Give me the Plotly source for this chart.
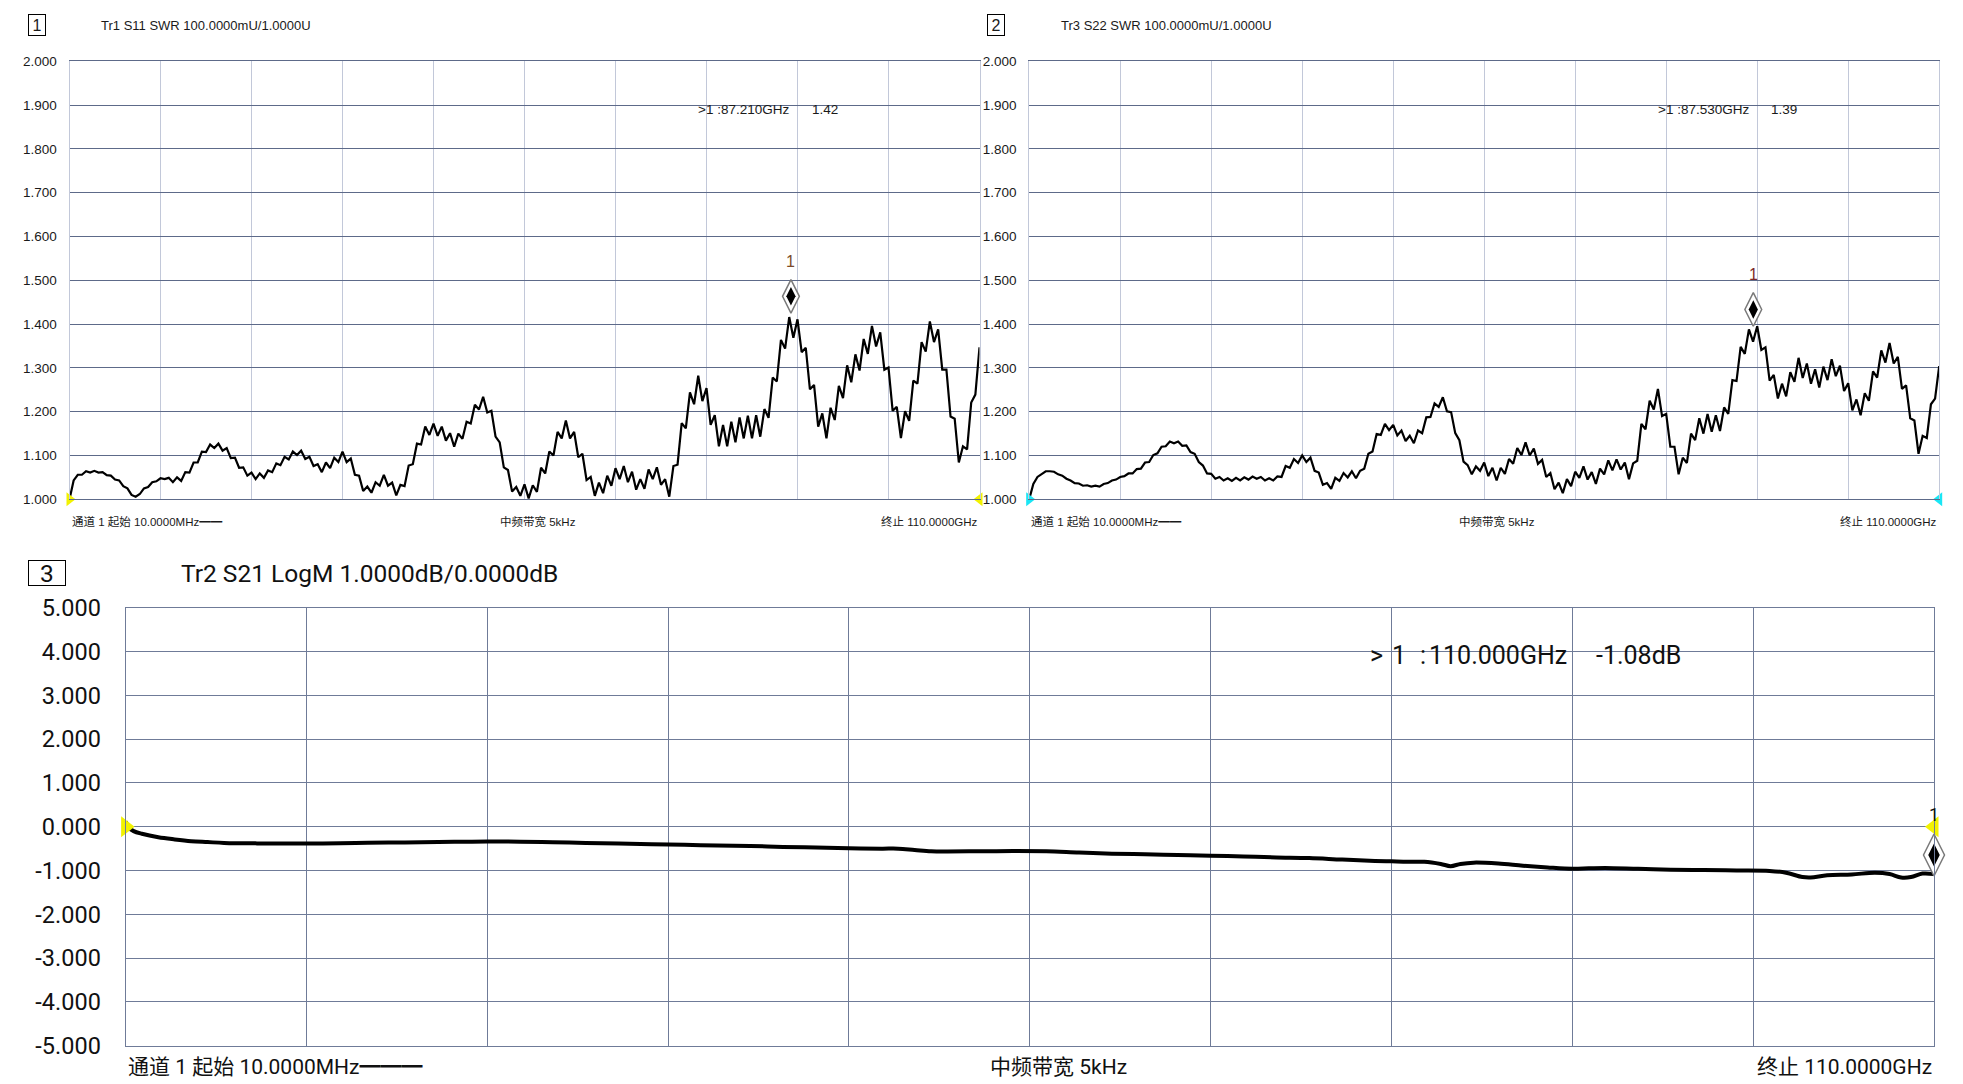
import numpy as np
import plotly.graph_objects as go

W, H = 1963, 1084
START_GHZ, STOP_GHZ = 0.01, 110.0

# ---- S11 SWR (Tr1), sweep points evenly spaced from START to STOP ----
s11_swr = [
    1.000, 1.043, 1.056, 1.056, 1.064, 1.061, 1.065, 1.061, 1.062, 1.055,
    1.054, 1.045, 1.043, 1.030, 1.025, 1.010, 1.006, 1.012, 1.025, 1.028,
    1.039, 1.041, 1.048, 1.046, 1.049, 1.039, 1.050, 1.042, 1.062, 1.061,
    1.084, 1.084, 1.109, 1.108, 1.125, 1.117, 1.127, 1.111, 1.117, 1.094,
    1.095, 1.072, 1.073, 1.054, 1.061, 1.046, 1.059, 1.049, 1.066, 1.062,
    1.082, 1.078, 1.097, 1.091, 1.109, 1.101, 1.111, 1.092, 1.097, 1.076,
    1.080, 1.062, 1.084, 1.071, 1.095, 1.085, 1.109, 1.085, 1.093, 1.056,
    1.054, 1.019, 1.029, 1.015, 1.039, 1.031, 1.056, 1.031, 1.038, 1.009,
    1.033, 1.030, 1.077, 1.080, 1.127, 1.125, 1.166, 1.147, 1.173, 1.145,
    1.166, 1.134, 1.151, 1.120, 1.150, 1.138, 1.177, 1.173, 1.216, 1.205,
    1.234, 1.198, 1.202, 1.143, 1.130, 1.073, 1.067, 1.018, 1.028, 1.008,
    1.034, 1.002, 1.032, 1.017, 1.072, 1.059, 1.109, 1.100, 1.154, 1.139,
    1.180, 1.139, 1.154, 1.096, 1.104, 1.044, 1.051, 1.008, 1.038, 1.014,
    1.054, 1.031, 1.071, 1.046, 1.076, 1.039, 1.063, 1.022, 1.046, 1.024,
    1.068, 1.046, 1.073, 1.033, 1.046, 1.006, 1.076, 1.079, 1.174, 1.162,
    1.244, 1.217, 1.282, 1.224, 1.254, 1.170, 1.192, 1.121, 1.170, 1.121,
    1.177, 1.130, 1.187, 1.139, 1.191, 1.139, 1.192, 1.143, 1.206, 1.186,
    1.278, 1.269, 1.364, 1.344, 1.416, 1.369, 1.411, 1.336, 1.346, 1.251,
    1.261, 1.166, 1.196, 1.139, 1.209, 1.181, 1.259, 1.231, 1.306, 1.267,
    1.331, 1.294, 1.366, 1.332, 1.396, 1.349, 1.381, 1.296, 1.301, 1.202,
    1.211, 1.140, 1.201, 1.179, 1.271, 1.264, 1.359, 1.337, 1.406, 1.359,
    1.388, 1.296, 1.296, 1.189, 1.184, 1.084, 1.121, 1.114, 1.221, 1.239,
    1.347,
]

# ---- S22 SWR (Tr3) ----
s22_swr = [
    1.000, 1.035, 1.051, 1.058, 1.064, 1.064, 1.063, 1.057, 1.054, 1.047,
    1.043, 1.037, 1.036, 1.031, 1.032, 1.029, 1.031, 1.029, 1.035, 1.037,
    1.043, 1.045, 1.051, 1.053, 1.059, 1.059, 1.069, 1.070, 1.084, 1.085,
    1.101, 1.105, 1.120, 1.121, 1.132, 1.128, 1.132, 1.122, 1.123, 1.108,
    1.104, 1.085, 1.077, 1.059, 1.058, 1.047, 1.051, 1.043, 1.048, 1.042,
    1.049, 1.043, 1.050, 1.045, 1.052, 1.047, 1.051, 1.043, 1.048, 1.043,
    1.052, 1.051, 1.076, 1.072, 1.092, 1.083, 1.100, 1.085, 1.095, 1.065,
    1.061, 1.033, 1.037, 1.024, 1.049, 1.042, 1.060, 1.050, 1.064, 1.048,
    1.065, 1.070, 1.104, 1.109, 1.149, 1.147, 1.172, 1.158, 1.170, 1.146,
    1.157, 1.133, 1.145, 1.128, 1.157, 1.151, 1.187, 1.188, 1.219, 1.211,
    1.233, 1.201, 1.199, 1.151, 1.135, 1.086, 1.078, 1.057, 1.075, 1.065,
    1.084, 1.053, 1.072, 1.043, 1.072, 1.058, 1.092, 1.081, 1.117, 1.101,
    1.130, 1.100, 1.116, 1.081, 1.090, 1.051, 1.060, 1.023, 1.038, 1.014,
    1.046, 1.030, 1.063, 1.049, 1.075, 1.045, 1.062, 1.035, 1.070, 1.057,
    1.089, 1.066, 1.091, 1.068, 1.084, 1.046, 1.082, 1.088, 1.172, 1.160,
    1.225, 1.205, 1.252, 1.190, 1.195, 1.120, 1.120, 1.057, 1.095, 1.083,
    1.150, 1.135, 1.185, 1.150, 1.195, 1.154, 1.192, 1.156, 1.210, 1.195,
    1.272, 1.270, 1.348, 1.332, 1.388, 1.360, 1.395, 1.341, 1.347, 1.271,
    1.284, 1.230, 1.264, 1.235, 1.290, 1.268, 1.323, 1.277, 1.310, 1.264,
    1.297, 1.255, 1.303, 1.272, 1.320, 1.281, 1.305, 1.247, 1.265, 1.203,
    1.228, 1.192, 1.242, 1.225, 1.292, 1.278, 1.340, 1.312, 1.357, 1.310,
    1.325, 1.252, 1.260, 1.185, 1.180, 1.104, 1.145, 1.140, 1.217, 1.230,
    1.304,
]

# ---- S21 LogM (Tr2) ----
s21_freq_ghz = [
    0.01, 0.2, 0.5, 1.0, 2.0, 3.0, 4.0, 5.0, 6.0, 8.0,
    10.0, 12.0, 14.0, 16.0, 18.0, 20.0, 22.0, 24.0, 26.0, 28.0,
    30.0, 32.0, 34.0, 36.0, 38.0, 40.0, 42.0, 44.0, 46.0, 47.0,
    48.0, 49.0, 50.0, 52.0, 54.0, 56.0, 58.0, 60.0, 62.0, 64.0,
    66.0, 68.0, 70.0, 72.0, 74.0, 76.0, 77.0, 78.0, 79.0, 80.0,
    80.6, 81.2, 82.0, 83.5, 85.0, 86.5, 88.0, 89.0, 90.0, 92.0,
    94.0, 96.0, 98.0, 100.0, 101.0, 102.0, 102.5, 103.5, 105.0, 106.4,
    107.3, 108.0, 108.6, 109.3, 110.0,
]
s21_db = [
    0.12, -0.02, -0.10, -0.16, -0.24, -0.29, -0.33, -0.35, -0.37, -0.38,
    -0.38, -0.38, -0.37, -0.36, -0.355, -0.345, -0.335, -0.34, -0.355, -0.37,
    -0.385, -0.40, -0.41, -0.43, -0.44, -0.46, -0.475, -0.49, -0.50, -0.50,
    -0.53, -0.56, -0.565, -0.56, -0.555, -0.56, -0.59, -0.615, -0.63, -0.645,
    -0.66, -0.68, -0.70, -0.715, -0.75, -0.78, -0.79, -0.80, -0.80, -0.85,
    -0.90, -0.85, -0.82, -0.84, -0.89, -0.93, -0.96, -0.95, -0.94, -0.96,
    -0.98, -0.99, -1.00, -1.01, -1.05, -1.15, -1.16, -1.11, -1.09, -1.05,
    -1.08, -1.16, -1.15, -1.07, -1.08,
]

swr_ticks = [1.0, 1.1, 1.2, 1.3, 1.4, 1.5, 1.6, 1.7, 1.8, 1.9, 2.0]
swr_ticktext = ["1.000", "1.100", "1.200", "1.300", "1.400", "1.500",
                "1.600", "1.700", "1.800", "1.900", "2.000"]
db_ticks = [-5, -4, -3, -2, -1, 0, 1, 2, 3, 4, 5]
db_ticktext = ["-5.000", "-4.000", "-3.000", "-2.000", "-1.000", "0.000",
               "1.000", "2.000", "3.000", "4.000", "5.000"]

m1_freq, m1_val = 87.21, 1.42
m2_freq, m2_val = 87.53, 1.39
m3_freq, m3_val = 110.0, -1.08

# reference levels of the three traces
ref_s11, ref_s22, ref_s21 = 1.0, 1.0, 0.0

SMALL = "Liberation Sans, Noto Sans CJK SC, sans-serif"
BIG = "Roboto, Noto Sans CJK SC, sans-serif"

GRID_DARK = "#5d6a89"
GRID_LIGHT = "#c2c8d9"
GRID_MID = "#6f7b98"
YELLOW = "#f2f200"
CYAN = "#19e6f5"

OFF = 8  # page body margin in the browser


def px(x):
    return (x - OFF) / W


def py(y):
    return 1 - (y - OFF) / H


freq_swr = np.linspace(START_GHZ, STOP_GHZ, len(s11_swr))
x_gridvals = list(np.linspace(START_GHZ, STOP_GHZ, 11))

fig = go.Figure()

for xa, ya, yvals in (("x", "y", s11_swr), ("x2", "y2", s22_swr)):
    fig.add_trace(go.Scatter(x=freq_swr, y=yvals, mode="lines",
                             line=dict(color="black", width=2.2),
                             xaxis=xa, yaxis=ya, hoverinfo="skip"))

fig.add_trace(go.Scatter(x=s21_freq_ghz, y=s21_db, mode="lines",
                         line=dict(color="black", width=4, shape="spline"),
                         xaxis="x3", yaxis="y3", hoverinfo="skip"))

# reference level indicators (triangles at both ends of each grid)
for xa, ya, ref, col, sz in (("x", "y", ref_s11, YELLOW, 12),
                             ("x2", "y2", ref_s22, CYAN, 12),
                             ("x3", "y3", ref_s21, YELLOW, 18)):
    fig.add_trace(go.Scatter(x=[START_GHZ, STOP_GHZ], y=[ref, ref], mode="markers",
                             xaxis=xa, yaxis=ya, cliponaxis=False, hoverinfo="skip",
                             marker=dict(symbol=["triangle-right", "triangle-left"],
                                         size=sz, color=col, line=dict(width=0))))

# marker diamonds
for xa, ya, f, v, sz, so in (("x", "y", m1_freq, m1_val, 24, 19),
                             ("x2", "y2", m2_freq, m2_val, 24, 19),
                             ("x3", "y3", m3_freq, m3_val, 30, 19)):
    fig.add_trace(go.Scatter(x=[f], y=[v], mode="markers", xaxis=xa, yaxis=ya,
                             cliponaxis=False, hoverinfo="skip",
                             marker=dict(symbol="diamond-tall", size=sz, color="white",
                                         angle=180, standoff=so,
                                         line=dict(color="#7a7a7a", width=1.5))))
    fig.add_trace(go.Scatter(x=[f], y=[v], mode="markers", xaxis=xa, yaxis=ya,
                             cliponaxis=False, hoverinfo="skip",
                             marker=dict(symbol="diamond-tall", size=sz * 0.55, color="black",
                                         angle=180, standoff=so,
                                         line=dict(width=0))))


def xaxis(domain, anchor, vgrid, hline):
    return dict(domain=domain, anchor=anchor, range=[START_GHZ, STOP_GHZ],
                tickvals=x_gridvals, showticklabels=False, ticks="",
                showgrid=True, gridcolor=vgrid, gridwidth=1,
                zeroline=False, showline=True, linecolor=hline, linewidth=1.3,
                mirror=True, fixedrange=True, automargin=False)


def yaxis(domain, anchor, rng, tv, tt, hgrid, vline, font, standoff):
    return dict(domain=domain, anchor=anchor, range=rng, tickvals=tv, ticktext=tt,
                ticks="", showgrid=True, gridcolor=hgrid, gridwidth=1.3,
                zeroline=False, showline=True, linecolor=vline, linewidth=1,
                mirror=True, tickfont=font, ticklabelstandoff=standoff,
                fixedrange=True, automargin=False)


top_font = dict(family=SMALL, size=13.5, color="#1a1a1a")
bot_font = dict(family=BIG, size=23.5, color="#111111")

dom_y_top = [py(499.3), py(61.3)]
dom_y_bot = [py(1045.6), py(607.9)]

fig.update_layout(
    width=W, height=H, autosize=False,
    margin=dict(l=0, r=0, t=0, b=0, autoexpand=False),
    paper_bgcolor="white", plot_bgcolor="white",
    showlegend=False, hovermode=False,
    xaxis=xaxis([px(69.5), px(979.5)], "y", GRID_LIGHT, GRID_DARK),
    yaxis=yaxis(dom_y_top, "x", [1.0, 2.0], swr_ticks, swr_ticktext,
                GRID_DARK, GRID_LIGHT, top_font, 9),
    xaxis2=xaxis([px(1029.2), px(1939.2)], "y2", GRID_LIGHT, GRID_DARK),
    yaxis2=yaxis(dom_y_top, "x2", [1.0, 2.0], swr_ticks, swr_ticktext,
                 GRID_DARK, GRID_LIGHT, top_font, 9),
    xaxis3=xaxis([px(125.6), px(1934)], "y3", GRID_MID, GRID_MID),
    yaxis3=yaxis(dom_y_bot, "x3", [-5, 5], db_ticks, db_ticktext,
                 GRID_MID, GRID_MID, bot_font, 19),
)

ann = []


def text(x, y, s, font, xanchor="left", yanchor="middle", **kw):
    d = dict(x=px(x), y=py(y), xref="paper", yref="paper", text=s, showarrow=False,
             xanchor=xanchor, yanchor=yanchor, font=font)
    d.update(kw)
    ann.append(d)


f_title_top = dict(family=SMALL, size=13, color="#1a1a1a")
f_read_top = dict(family=SMALL, size=13.5, color="#1a1a1a")
f_top_small = dict(family=SMALL, size=11.5, color="#1a1a1a")
f_box = dict(family=SMALL, size=16, color="#1a1a1a")
f_bot = dict(family=BIG, size=24.5, color="#111111")
f_read_bot = dict(family=BIG, size=25, color="#111111")
f_bot_small = dict(family=BIG, size=21, color="#111111")

# channel boxes
text(37, 25, "1", f_box, xanchor="center", bordercolor="black",
     borderwidth=1, borderpad=1, width=14, height=18)
text(996, 25, "2", f_box, xanchor="center", bordercolor="black",
     borderwidth=1, borderpad=1, width=14, height=18)
text(46.8, 573, "3", f_bot, xanchor="center", bordercolor="black",
     borderwidth=1, borderpad=1, width=34, height=22)

# titles
text(99, 26, "Tr1 S11 SWR 100.0000mU/1.0000U", f_title_top)
text(1059, 26, "Tr3 S22 SWR 100.0000mU/1.0000U", f_title_top)
text(179, 573, "Tr2 S21 LogM 1.0000dB/0.0000dB", f_bot)

# marker readouts
text(696, 109, ">1 :87.210GHz", f_read_top)
text(810, 109, "1.42", f_read_top)
text(1656, 109, ">1 :87.530GHz", f_read_top)
text(1769, 109, "1.39", f_read_top)
text(1368, 655, ">", f_read_bot)
text(1390, 655, "1", f_read_bot)
text(1418, 655, ":", f_read_bot)
text(1427, 655, "110.000GHz", f_read_bot)
text(1594, 655, "-1.08dB", f_read_bot)

# bottom status lines
for left, right, center in ((69.5, 979.5, 538), (1029.2, 1939.2, 1497)):
    text(left, 521, "通道 1 起始 10.0000MHz━━", f_top_small)
    text(center, 521, "中频带宽 5kHz", f_top_small, xanchor="center")
    text(right, 521, "终止 110.0000GHz", f_top_small, xanchor="right")
text(125.6, 1067, "通道 1 起始 10.0000MHz━━━", f_bot_small)
text(1058, 1067, "中频带宽 5kHz", f_bot_small, xanchor="center")
text(1934, 1067, "终止 110.0000GHz", f_bot_small, xanchor="right")

# marker number labels above diamonds
for xr, yr, f, v, col, fnt, sz, ys in (("x", "y", m1_freq, m1_val, "#7b4b2a", SMALL, 16, 54),
                                       ("x2", "y2", m2_freq, m2_val, "#7b2a2a", SMALL, 16, 54),
                                       ("x3", "y3", m3_freq, m3_val, "#111111", BIG, 18, 60)):
    ann.append(dict(x=f, y=v, xref=xr, yref=yr, text="1", showarrow=False,
                    xanchor="center", yanchor="middle", yshift=ys,
                    font=dict(family=fnt, size=sz, color=col)))

fig.update_layout(annotations=ann)

fig.write_html("out.html")
